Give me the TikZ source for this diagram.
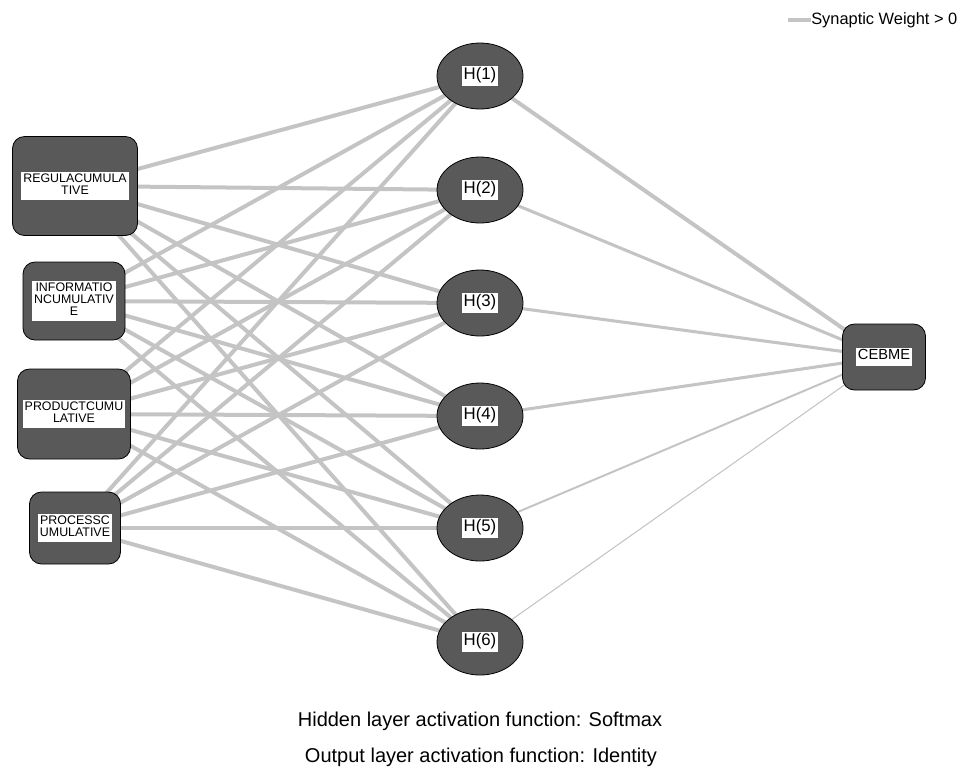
\documentclass[tikz,border=0pt]{standalone}
\usepackage{fontspec}
\setmainfont{Liberation Sans}
\usetikzlibrary{shapes.geometric,backgrounds}

\definecolor{nodegray}{HTML}{595959}
\definecolor{wgtgray}{HTML}{C4C4C4}

% white label box inside the dark nodes
\newcommand{\wlab}[1]{{\setlength{\fboxsep}{1.5pt}\renewcommand{\arraystretch}{0.92}\colorbox{white}{\begin{tabular}{@{}c@{}}#1\end{tabular}}}}

\begin{document}
\begin{tikzpicture}[x=0.75pt,y=0.75pt,yscale=-1,xscale=1,
  inbox/.style={draw=black, fill=nodegray, rounded corners=9pt, inner sep=0pt, line width=0.6pt, font=\fontsize{9.3}{10}\selectfont},
  hidnode/.style={ellipse, draw=black, fill=nodegray, minimum width=64.5pt, minimum height=49.5pt, inner sep=0pt, line width=0.6pt, font=\fontsize{12.6}{13}\selectfont},
  wgt/.style={draw=wgtgray, line width=#1},
  note/.style={inner sep=0pt, font=\fontsize{15}{17}\selectfont}]
\useasboundingbox (0,0) rectangle (962,776);

%Input layer
\node[inbox, minimum width=93.75pt, minimum height=74.25pt] (reg) at (75,186) {\wlab{REGULACUMULA\\TIVE}};
\node[inbox, minimum width=76.5pt, minimum height=58.5pt] (info) at (74,301) {\wlab{INFORMATIO\\NCUMULATIV\\E}};
\node[inbox, minimum width=84.75pt, minimum height=67.5pt] (prod) at (74,414) {\wlab{PRODUCTCUMU\\LATIVE}};
\node[inbox, minimum width=68.25pt, minimum height=54pt] (proc) at (75,528) {\wlab{PROCESSC\\UMULATIVE}};

%Hidden layer
\foreach \i/\y in {1/76,2/190,3/303,4/416,5/528,6/642}
  \node[hidnode] (h\i) at (480,\y) {\wlab{H(\i)}};

%Output layer
\node[inbox, minimum width=62.25pt, minimum height=49.5pt, font=\fontsize{11}{12}\selectfont] (cebme) at (884,357) {\wlab{CEBME}};

%Synaptic weights
\begin{scope}[on background layer]
\foreach \a in {reg,info,prod,proc}
  \foreach \b in {1,...,6}
    \draw[wgt=3pt] (\a.center) -- (h\b.center);
\foreach \b/\w in {1/3pt,2/2.3pt,3/2.3pt,4/2.3pt,5/1.5pt,6/0.8pt}
  \draw[wgt=\w] (h\b.center) -- (cebme.center);
\end{scope}

%Legend
\node[anchor=west, inner sep=0pt, font=\fontsize{12.3}{14}\selectfont] (legend) at (811,20) {Synaptic Weight > 0};
\draw[wgt=3pt] (legend.west) -- ++(-23,0);

%Notes
\node[note] (hidfn) at (480,721) {Hidden layer activation function: Softmax};
\node[note] (outfn) at (481,757) {Output layer activation function: Identity};

\end{tikzpicture}
\end{document}
